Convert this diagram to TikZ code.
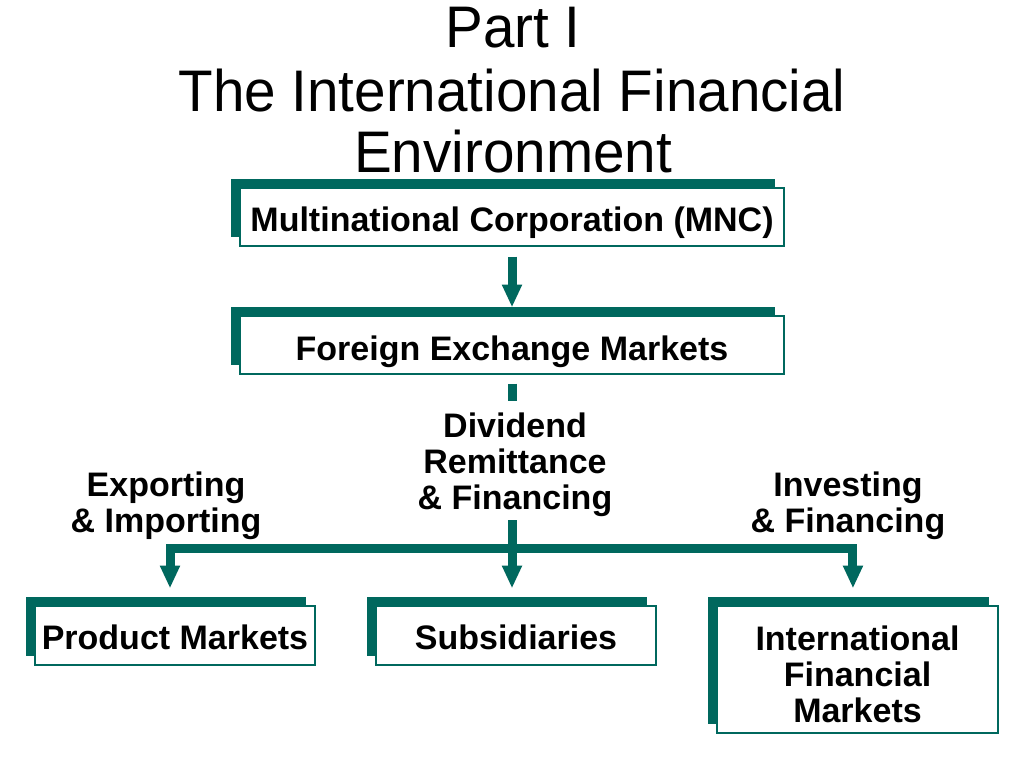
\documentclass[tikz,border=0pt]{standalone}
\usepackage{fontspec}
\setmainfont{Liberation Sans}
\newfontfamily\ttlfont[FakeStretch=0.965]{Liberation Sans}
\usetikzlibrary{arrows.meta,shadows}
\definecolor{tealc}{RGB}{0,104,94}
\newcommand\dropby[2]{\raisebox{-#1}[\height][\depth]{#2}}
\begin{document}
\begin{tikzpicture}[x=0.75pt,y=-0.75pt,
  box/.style={draw=tealc, line width=1pt, fill=white, align=center, inner sep=0pt,
    font=\bfseries\fontsize{25.5}{27}\selectfont,
    copy shadow={shadow xshift=-6.75pt, shadow yshift=6.4pt, fill=tealc, draw=none}},
  lbl/.style={font=\bfseries\fontsize{25.5}{27}\selectfont, align=center, inner sep=0pt},
  ttl/.style={font=\ttlfont\fontsize{44}{46}\selectfont, anchor=base, inner sep=0pt},
  conn/.style={draw=tealc, line width=6.75pt, line join=miter},
  arr/.style={conn, -{Triangle[width=14pt, length=17pt]}}]
\fill[white] (0,0) rectangle (1024,768);
\useasboundingbox (0,0) rectangle (1024,768);

% title
\node[ttl] (t1) at (513,47) {Part I};
\node[ttl] (t2) at (512,111) {The International Financial};
\node[ttl] (t3) at (513,172) {Environment};

% boxes
\node[box, minimum width=408pt, minimum height=43.5pt] (mnc) at (512,217) {\dropby{4.5pt}{Multinational Corporation (MNC)}};
\node[box, minimum width=408pt, minimum height=43.5pt] (fx) at (512,345) {\dropby{5.25pt}{Foreign Exchange Markets}};
\node[box, minimum width=210pt, minimum height=44.25pt] (prod) at (175,635.5) {\dropby{1.5pt}{Product Markets}};
\node[box, minimum width=210pt, minimum height=44.25pt] (sub) at (516,635.5) {\dropby{1.5pt}{Subsidiaries}};
\node[box, minimum width=210.75pt, minimum height=95.25pt] (ifm) at (857.5,669.5) {\dropby{7.5pt}{\begin{tabular}{@{}c@{}}International\\Financial\\Markets\end{tabular}}};

% labels
\node[lbl] (div) at (515,464.5) {Dividend\\Remittance\\\& Financing};
\node[lbl] (exp) at (166,506) {Exporting\\\& Importing};
\node[lbl] (inv) at (848,506) {Investing\\\& Financing};

% connectors
\coordinate (s1) at (512,401);
\coordinate (s2) at (512,520);
\coordinate (j) at (512,548);
\draw[arr] ([yshift=-7.5pt]mnc.south) -- ([yshift=6pt]fx.north -| mnc.south);
\draw[conn] ([yshift=-6.75pt]fx.south) -- (s1);
\draw[arr] (s2) -- ([xshift=-3pt,yshift=12.75pt]sub.north);
\draw[arr] (j) -| ([xshift=-3.75pt,yshift=12.75pt]prod.north);
\draw[arr] (j) -| ([xshift=-3.4pt,yshift=12.75pt]ifm.north);
\end{tikzpicture}
\end{document}
